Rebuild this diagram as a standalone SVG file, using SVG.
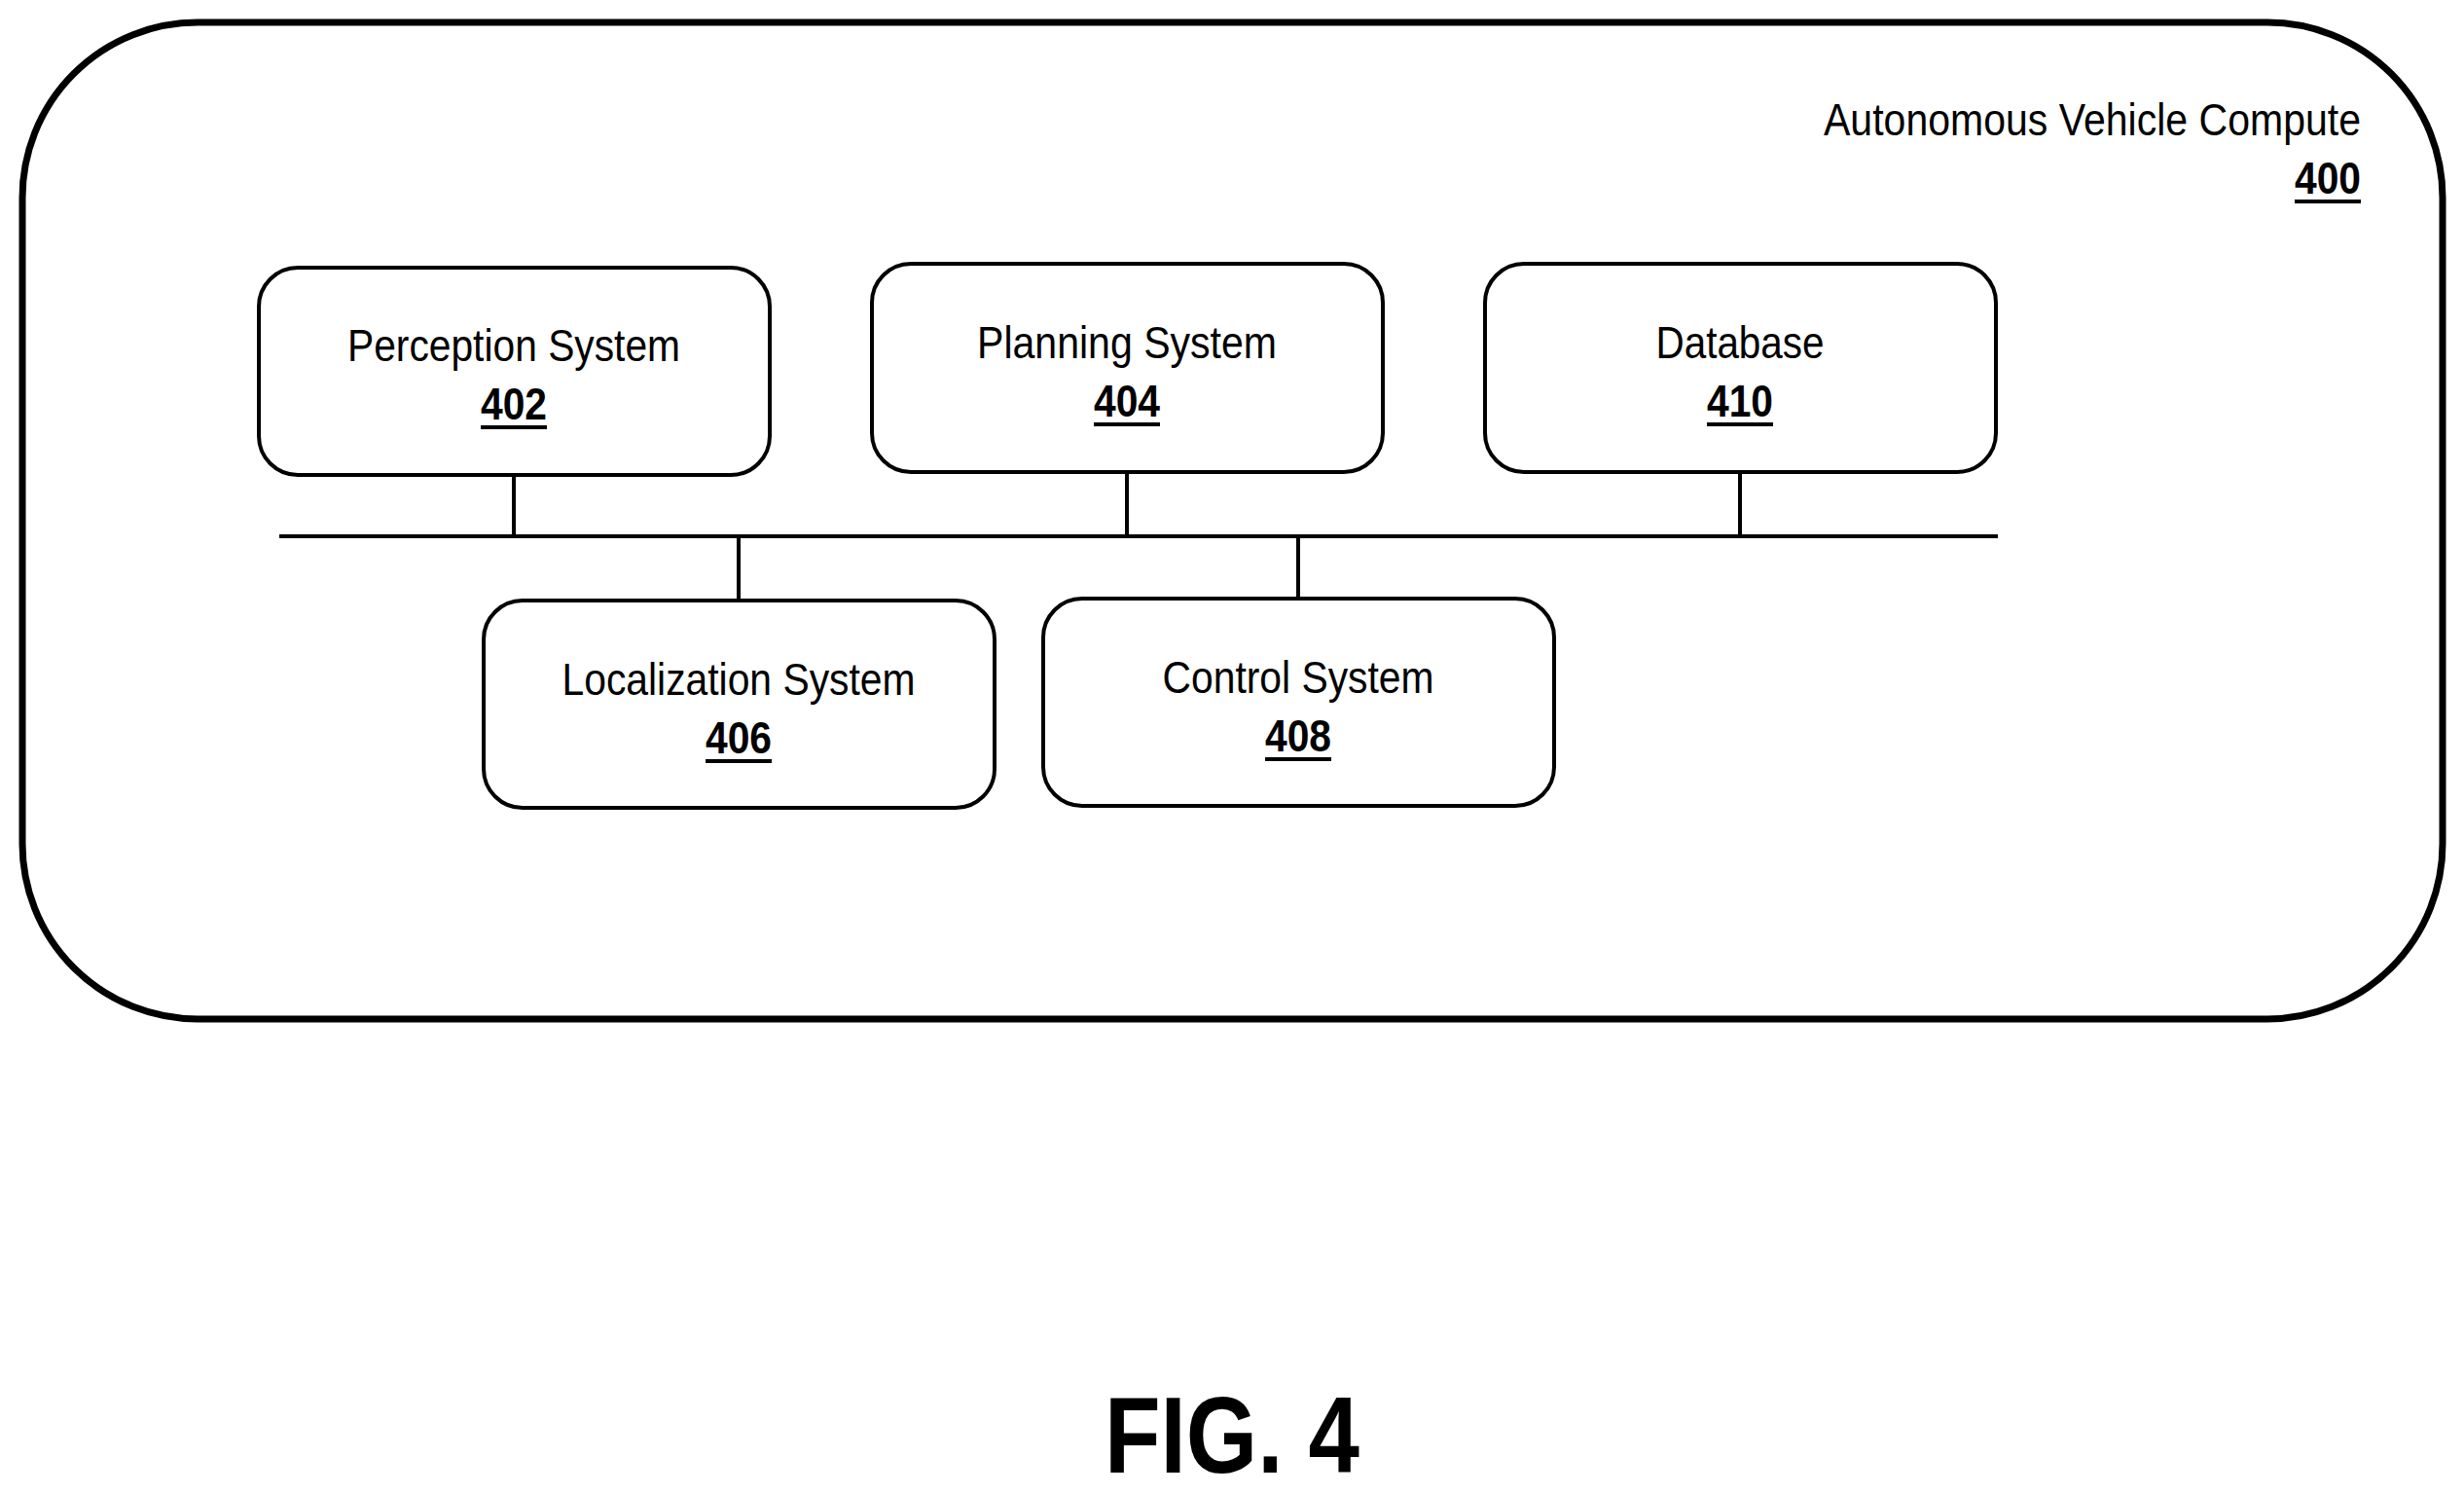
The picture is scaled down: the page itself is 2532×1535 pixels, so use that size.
<svg xmlns="http://www.w3.org/2000/svg" width="2532" height="1535" viewBox="0 0 2532 1535">
<style>
.box{fill:#fff;stroke:#000;stroke-width:4}
.t{font-family:"Liberation Sans",Arial,sans-serif;font-size:46px;text-anchor:middle;fill:#000}
.n{font-family:"Liberation Sans",Arial,sans-serif;font-size:46px;font-weight:bold;text-anchor:middle;fill:#000}
.u{stroke:#000;stroke-width:4}
.c{stroke:#000;stroke-width:4;fill:none}
</style>
<rect width="2532" height="1535" fill="#fff"/>
<g id="outer">
<rect x="23" y="23" width="2487" height="1024" rx="180" ry="180" fill="none" stroke="#000" stroke-width="7"/>
<text class="t" x="2426" y="139" style="text-anchor:end" textLength="552" lengthAdjust="spacingAndGlyphs">Autonomous Vehicle Compute</text>
<text class="n" x="2426" y="199" style="text-anchor:end" textLength="68" lengthAdjust="spacingAndGlyphs">400</text>
<line class="u" x1="2358" y1="207" x2="2426" y2="207"/>
</g>
<g id="connectors">
<line class="c" x1="287" y1="551" x2="2053" y2="551"/>
<line class="c" x1="528" y1="488" x2="528" y2="551"/>
<line class="c" x1="1158" y1="485" x2="1158" y2="551"/>
<line class="c" x1="1788" y1="485" x2="1788" y2="551"/>
<line class="c" x1="759" y1="551" x2="759" y2="617"/>
<line class="c" x1="1334" y1="551" x2="1334" y2="615"/>
</g>
<g id="n402">
<rect class="box" x="266" y="275" width="525" height="213" rx="40"/>
<text class="t" x="528" y="371" textLength="342" lengthAdjust="spacingAndGlyphs">Perception System</text>
<text class="n" x="528" y="431" textLength="68" lengthAdjust="spacingAndGlyphs">402</text>
<line class="u" x1="494" y1="439" x2="562" y2="439"/>
</g>
<g id="n404">
<rect class="box" x="896" y="271" width="525" height="214" rx="40"/>
<text class="t" x="1158" y="368" textLength="308" lengthAdjust="spacingAndGlyphs">Planning System</text>
<text class="n" x="1158" y="428" textLength="68" lengthAdjust="spacingAndGlyphs">404</text>
<line class="u" x1="1124" y1="436" x2="1192" y2="436"/>
</g>
<g id="n410">
<rect class="box" x="1526" y="271" width="525" height="214" rx="40"/>
<text class="t" x="1788" y="368" textLength="173" lengthAdjust="spacingAndGlyphs">Database</text>
<text class="n" x="1788" y="428" textLength="68" lengthAdjust="spacingAndGlyphs">410</text>
<line class="u" x1="1754" y1="436" x2="1822" y2="436"/>
</g>
<g id="n406">
<rect class="box" x="497" y="617" width="525" height="213" rx="40"/>
<text class="t" x="759" y="714" textLength="363" lengthAdjust="spacingAndGlyphs">Localization System</text>
<text class="n" x="759" y="774" textLength="68" lengthAdjust="spacingAndGlyphs">406</text>
<line class="u" x1="725" y1="782" x2="793" y2="782"/>
</g>
<g id="n408">
<rect class="box" x="1072" y="615" width="525" height="213" rx="40"/>
<text class="t" x="1334" y="712" textLength="279" lengthAdjust="spacingAndGlyphs">Control System</text>
<text class="n" x="1334" y="772" textLength="68" lengthAdjust="spacingAndGlyphs">408</text>
<line class="u" x1="1300" y1="780" x2="1368" y2="780"/>
</g>
<text x="1266" y="1513" font-family="'Liberation Sans',Arial,sans-serif" font-size="112" font-weight="bold" text-anchor="middle" textLength="262" lengthAdjust="spacingAndGlyphs">FIG. 4</text>
</svg>
